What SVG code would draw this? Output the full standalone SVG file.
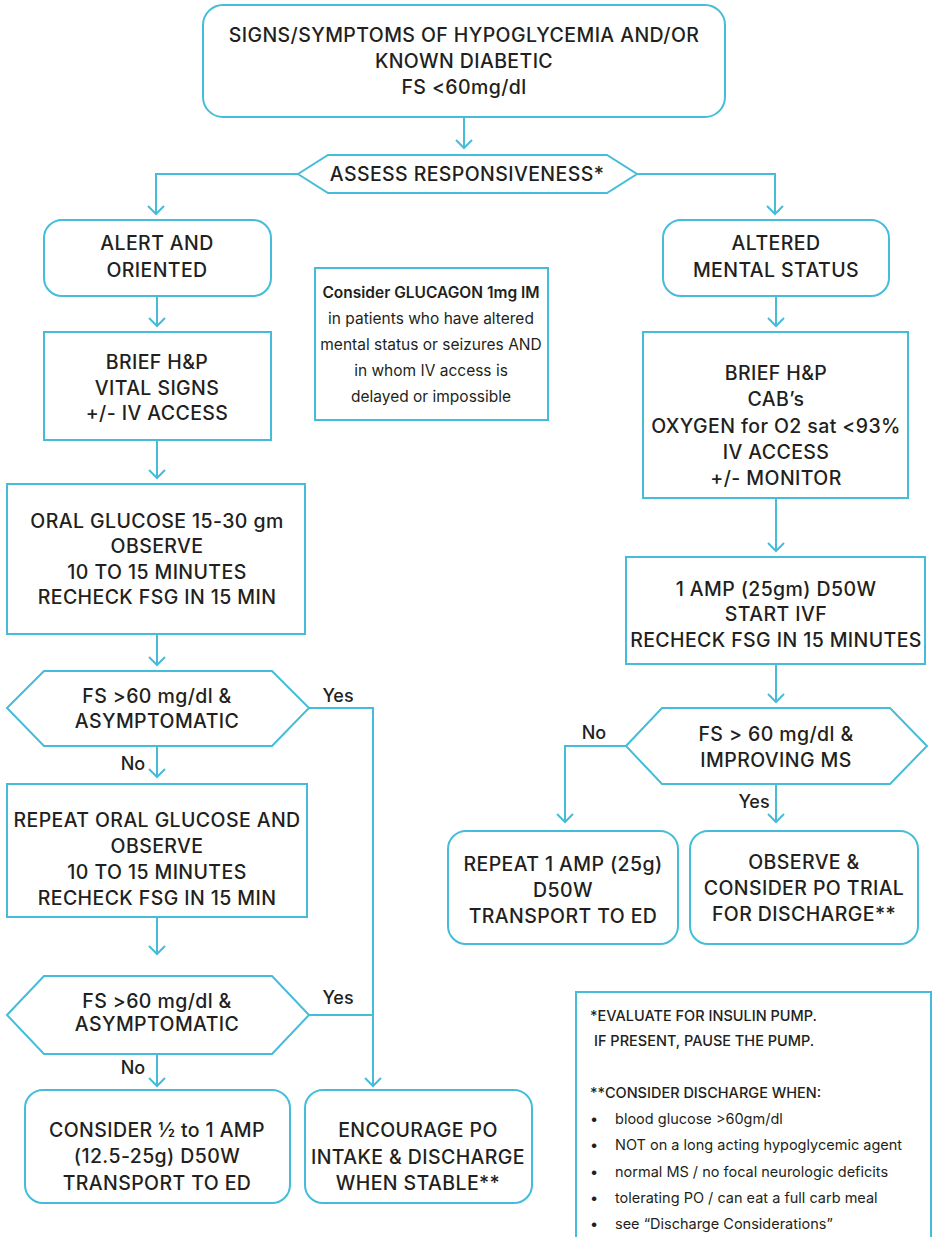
<svg xmlns="http://www.w3.org/2000/svg" width="933" height="1237" viewBox="0 0 933 1237">
  <style>
    .box { fill: #ffffff; stroke: #45bcd9; stroke-width: 2; }
    .ln { fill: none; stroke: #45bcd9; stroke-width: 2; }
    .t { font-family: Inter, "Liberation Sans", sans-serif; font-size: 19.5px; font-weight: 500; letter-spacing: 0.4px; fill: #231f20; text-anchor: middle; }
    .lbl { font-family: Inter, "Liberation Sans", sans-serif; font-size: 18px; font-weight: 500; fill: #231f20; text-anchor: middle; }
    .c { font-family: Inter, "Liberation Sans", sans-serif; font-size: 15.5px; font-weight: 400; fill: #231f20; text-anchor: middle; }
    .cb { font-weight: 600; }
    .n { font-family: Inter, "Liberation Sans", sans-serif; font-size: 14.5px; font-weight: 400; fill: #231f20; }
    .nb { font-weight: 500; }
  </style>
  <defs>
    <marker id="arrow" markerUnits="userSpaceOnUse" markerWidth="20" markerHeight="20" viewBox="-1 -1 20 20" refX="8" refY="8" orient="auto">
      <path d="M0,0 L8,8 L0,16" fill="none" stroke="#45bcd9" stroke-width="2"/>
    </marker>
  </defs>

  <rect width="933" height="1237" fill="#ffffff"/>

  <!-- connectors -->
  <g id="connectors" class="ln">
    <line x1="464" y1="117" x2="464" y2="148" marker-end="url(#arrow)"/>
    <polyline points="298,174 156,174 156,214" marker-end="url(#arrow)"/>
    <polyline points="637,174 775,174 775,214" marker-end="url(#arrow)"/>
    <line x1="157" y1="296" x2="157" y2="326" marker-end="url(#arrow)"/>
    <line x1="157" y1="440" x2="157" y2="478" marker-end="url(#arrow)"/>
    <line x1="157" y1="634" x2="157" y2="665" marker-end="url(#arrow)"/>
    <line x1="157" y1="746" x2="157" y2="777" marker-end="url(#arrow)"/>
    <line x1="157" y1="917" x2="157" y2="954" marker-end="url(#arrow)"/>
    <line x1="157" y1="1054" x2="157" y2="1086" marker-end="url(#arrow)"/>
    <polyline points="309,708 373,708 373,1086" marker-end="url(#arrow)"/>
    <line x1="309" y1="1015" x2="373" y2="1015"/>
    <line x1="776" y1="296" x2="776" y2="326" marker-end="url(#arrow)"/>
    <line x1="776" y1="498" x2="776" y2="551" marker-end="url(#arrow)"/>
    <line x1="776" y1="664" x2="776" y2="702" marker-end="url(#arrow)"/>
    <line x1="776" y1="784" x2="776" y2="822" marker-end="url(#arrow)"/>
    <polyline points="626,746 565,746 565,822" marker-end="url(#arrow)"/>
  </g>

  <!-- start -->
  <g id="start">
    <rect class="box" x="203" y="5" width="522" height="112" rx="20"/>
    <text class="t" x="464" y="42">SIGNS/SYMPTOMS OF HYPOGLYCEMIA AND/OR</text>
    <text class="t" x="464" y="68">KNOWN DIABETIC</text>
    <text class="t" x="464" y="94">FS &lt;60mg/dl</text>
  </g>

  <g id="assess">
    <polygon class="box" points="298,174 328,155 607,155 637,174 607,193 328,193"/>
    <text class="t" x="467" y="181">ASSESS RESPONSIVENESS*</text>
  </g>

  <!-- left branch -->
  <g id="alert">
    <rect class="box" x="44" y="220" width="227" height="76" rx="18"/>
    <text class="t" x="157" y="250">ALERT AND</text>
    <text class="t" x="157" y="277">ORIENTED</text>
  </g>

  <g id="brief-left">
    <rect class="box" x="44" y="332" width="227" height="108"/>
    <text class="t" x="157" y="369">BRIEF H&amp;P</text>
    <text class="t" x="157" y="395">VITAL SIGNS</text>
    <text class="t" x="157" y="420">+/- IV ACCESS</text>
  </g>

  <g id="oral-glucose">
    <rect class="box" x="7" y="484" width="298" height="150"/>
    <text class="t" x="157" y="528">ORAL GLUCOSE 15-30 gm</text>
    <text class="t" x="157" y="553">OBSERVE</text>
    <text class="t" x="157" y="579">10 TO 15 MINUTES</text>
    <text class="t" x="157" y="604">RECHECK FSG IN 15 MIN</text>
  </g>

  <g id="check-1">
    <polygon class="box" points="7,708 44,671 272,671 309,708 272,746 44,746"/>
    <text class="t" x="157" y="703">FS &gt;60 mg/dl &amp;</text>
    <text class="t" x="157" y="728">ASYMPTOMATIC</text>
    <text class="lbl" x="338" y="702">Yes</text>
    <text class="lbl" x="133" y="770">No</text>
  </g>

  <g id="repeat-oral">
    <rect class="box" x="7" y="784" width="300" height="133"/>
    <text class="t" x="157" y="827">REPEAT ORAL GLUCOSE AND</text>
    <text class="t" x="157" y="853">OBSERVE</text>
    <text class="t" x="157" y="879">10 TO 15 MINUTES</text>
    <text class="t" x="157" y="905">RECHECK FSG IN 15 MIN</text>
  </g>

  <g id="check-2">
    <polygon class="box" points="7,1015 44,976 272,976 309,1015 272,1054 44,1054"/>
    <text class="t" x="157" y="1008">FS &gt;60 mg/dl &amp;</text>
    <text class="t" x="157" y="1031">ASYMPTOMATIC</text>
    <text class="lbl" x="338" y="1004">Yes</text>
    <text class="lbl" x="133" y="1074">No</text>
  </g>

  <g id="consider-amp">
    <rect class="box" x="25" y="1090" width="265" height="113" rx="18"/>
    <text class="t" x="157" y="1137">CONSIDER ½ to 1 AMP</text>
    <text class="t" x="157" y="1163">(12.5-25g) D50W</text>
    <text class="t" x="157" y="1190">TRANSPORT TO ED</text>
  </g>

  <g id="encourage-po">
    <rect class="box" x="305" y="1090" width="227" height="113" rx="18"/>
    <text class="t" x="418" y="1137">ENCOURAGE PO</text>
    <text class="t" x="418" y="1164">INTAKE &amp; DISCHARGE</text>
    <text class="t" x="418" y="1190">WHEN STABLE**</text>
  </g>

  <!-- glucagon note -->
  <g id="glucagon">
    <rect class="box" x="315" y="268" width="233" height="152"/>
    <text class="c cb" x="431" y="298">Consider GLUCAGON 1mg IM</text>
    <text class="c" x="431" y="324">in patients who have altered</text>
    <text class="c" x="431" y="350">mental status or seizures AND</text>
    <text class="c" x="431" y="376">in whom IV access is</text>
    <text class="c" x="431" y="402">delayed or impossible</text>
  </g>

  <!-- right branch -->
  <g id="altered">
    <rect class="box" x="663" y="220" width="226" height="76" rx="18"/>
    <text class="t" x="776" y="250">ALTERED</text>
    <text class="t" x="776" y="277">MENTAL STATUS</text>
  </g>

  <g id="brief-right">
    <rect class="box" x="643" y="332" width="265" height="166"/>
    <text class="t" x="776" y="380">BRIEF H&amp;P</text>
    <text class="t" x="776" y="406">CAB’s</text>
    <text class="t" x="776" y="433">OXYGEN for O2 sat &lt;93%</text>
    <text class="t" x="776" y="459">IV ACCESS</text>
    <text class="t" x="776" y="485">+/- MONITOR</text>
  </g>

  <g id="d50w">
    <rect class="box" x="626" y="557" width="299" height="107"/>
    <text class="t" x="776" y="596">1 AMP (25gm) D50W</text>
    <text class="t" x="776" y="621">START IVF</text>
    <text class="t" x="776" y="647">RECHECK FSG IN 15 MINUTES</text>
  </g>

  <g id="check-ms">
    <polygon class="box" points="626,746 662,708 890,708 927,746 890,784 662,784"/>
    <text class="t" x="776" y="741">FS &gt; 60 mg/dl &amp;</text>
    <text class="t" x="776" y="767">IMPROVING MS</text>
    <text class="lbl" x="594" y="739">No</text>
    <text class="lbl" x="754" y="808">Yes</text>
  </g>

  <g id="repeat-amp">
    <rect class="box" x="448" y="831" width="230" height="113" rx="18"/>
    <text class="t" x="563" y="871">REPEAT 1 AMP (25g)</text>
    <text class="t" x="563" y="897">D50W</text>
    <text class="t" x="563" y="923">TRANSPORT TO ED</text>
  </g>

  <g id="observe">
    <rect class="box" x="690" y="831" width="228" height="113" rx="18"/>
    <text class="t" x="804" y="869">OBSERVE &amp;</text>
    <text class="t" x="804" y="895">CONSIDER PO TRIAL</text>
    <text class="t" x="804" y="921">FOR DISCHARGE**</text>
  </g>

  <!-- footnotes -->
  <g id="notes">
    <rect class="box" x="576" y="992" width="355" height="260"/>
    <text class="n nb" x="590" y="1021">*EVALUATE FOR INSULIN PUMP.</text>
    <text class="n nb" x="594" y="1046">IF PRESENT, PAUSE THE PUMP.</text>
    <text class="n nb" x="590" y="1098">**CONSIDER DISCHARGE WHEN:</text>
    <text class="n" x="590" y="1124">•</text>
    <text class="n" x="615" y="1124">blood glucose &gt;60gm/dl</text>
    <text class="n" x="590" y="1150">•</text>
    <text class="n" x="615" y="1150">NOT on a long acting hypoglycemic agent</text>
    <text class="n" x="590" y="1177">•</text>
    <text class="n" x="615" y="1177">normal MS / no focal neurologic deficits</text>
    <text class="n" x="590" y="1203">•</text>
    <text class="n" x="615" y="1203">tolerating PO / can eat a full carb meal</text>
    <text class="n" x="590" y="1229">•</text>
    <text class="n" x="615" y="1229">see “Discharge Considerations”</text>
  </g>
</svg>
